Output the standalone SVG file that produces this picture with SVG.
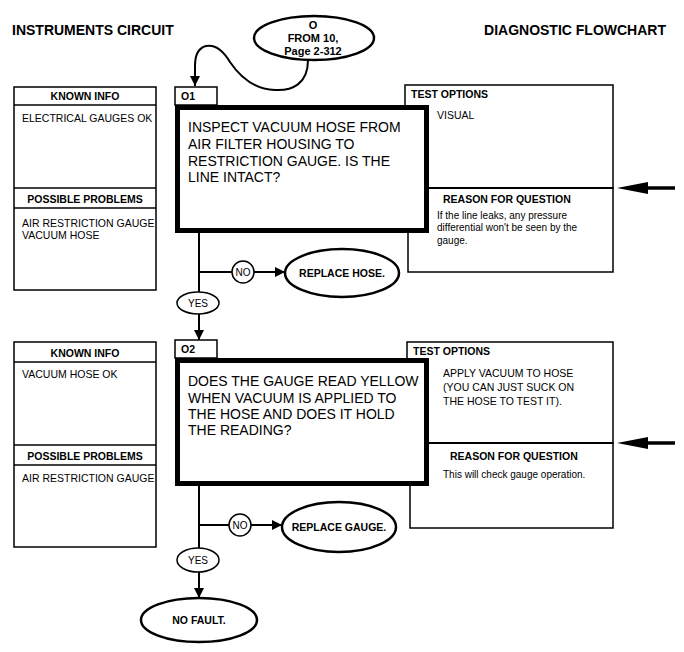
<svg xmlns="http://www.w3.org/2000/svg" width="684" height="652" viewBox="0 0 684 652">
<defs>
<style>
text{font-family:"Liberation Sans",Arial,Helvetica,sans-serif;fill:#000}
.title{font-size:14px;font-weight:bold}
.hdr{font-size:10.5px;font-weight:bold}
.body{font-size:10.5px}
.small{font-size:10px}
.q{font-size:14px}
.ov{font-size:10.5px;font-weight:bold}
.lbl{font-size:10px}
.box{fill:#fff;stroke:#000;stroke-width:1.5}
.thick{fill:#fff;stroke:#000;stroke-width:5}
.oval{fill:#fff;stroke:#000;stroke-width:2.5}
.small-oval{fill:#fff;stroke:#000;stroke-width:1.5}
.ln{fill:none;stroke:#000;stroke-width:2}
.sep{stroke:#000;stroke-width:1.5}
.mid{text-anchor:middle}
</style>
<marker id="ah" viewBox="0 0 10 10" refX="10" refY="5" markerWidth="15" markerHeight="10" markerUnits="userSpaceOnUse" orient="auto">
<path d="M0,0 L10,5 L0,10 z" fill="#000"/>
</marker>
</defs>
<rect width="684" height="652" fill="#fff"/>

<text class="title" x="12" y="35">INSTRUMENTS CIRCUIT</text>
<text class="title" x="666" y="35" text-anchor="end">DIAGNOSTIC FLOWCHART</text>

<g id="start">
<ellipse class="oval" cx="314" cy="38" rx="60" ry="22"/>
<text class="mid" x="313" y="29" font-size="11" font-weight="bold">O</text>
<text class="mid" x="313" y="42" font-size="11" font-weight="bold">FROM 10,</text>
<text class="mid" x="313" y="55" font-size="11" font-weight="bold">Page 2-312</text>
</g>

<!-- Section 1 -->
<g id="known1">
<rect class="box" x="14" y="87" width="142" height="203"/>
<line class="sep" x1="14" y1="105" x2="156" y2="105"/>
<line class="sep" x1="14" y1="188" x2="156" y2="188"/>
<line class="sep" x1="14" y1="208" x2="156" y2="208"/>
<text class="hdr mid" x="85" y="100">KNOWN INFO</text>
<text class="body" x="22" y="122">ELECTRICAL GAUGES OK</text>
<text class="hdr mid" x="85" y="203">POSSIBLE PROBLEMS</text>
<text class="body" x="22" y="227">AIR RESTRICTION GAUGE</text>
<text class="body" x="22" y="239">VACUUM HOSE</text>
</g>

<g id="test1">
<rect class="box" x="405" y="85" width="208" height="103" stroke-width="2"/>
<text class="hdr" x="411" y="98">TEST OPTIONS</text>
<text class="body" x="437" y="119">VISUAL</text>
</g>
<g id="reason1">
<rect class="box" x="408" y="188" width="205" height="84"/>
<line class="ln" x1="405" y1="188" x2="613" y2="188"/>
<text class="hdr" x="443" y="203">REASON FOR QUESTION</text>
<text class="small" x="437" y="219">If the line leaks, any pressure</text>
<text class="small" x="437" y="231">differential won't be seen by the</text>
<text class="small" x="437" y="244">gauge.</text>
</g>

<g id="q1">
<rect class="box" x="175" y="87" width="42" height="18"/>
<text class="hdr" x="181" y="100">O1</text>
<rect class="thick" x="177.5" y="107.5" width="249" height="123"/>
<text class="q" x="188" y="132">INSPECT VACUUM HOSE FROM</text>
<text class="q" x="188" y="149">AIR FILTER HOUSING TO</text>
<text class="q" x="188" y="166">RESTRICTION GAUGE. IS THE</text>
<text class="q" x="188" y="182">LINE INTACT?</text>
</g>

<g id="replacehose">
<ellipse class="oval" cx="342" cy="273" rx="57" ry="24"/>
<text class="ov mid" x="342" y="277">REPLACE HOSE.</text>
</g>

<!-- Section 2 -->
<g id="known2">
<rect class="box" x="14" y="342" width="142" height="205"/>
<line class="sep" x1="14" y1="362" x2="156" y2="362"/>
<line class="sep" x1="14" y1="445" x2="156" y2="445"/>
<line class="sep" x1="14" y1="465" x2="156" y2="465"/>
<text class="hdr mid" x="85" y="357">KNOWN INFO</text>
<text class="body" x="22" y="378">VACUUM HOSE OK</text>
<text class="hdr mid" x="85" y="460">POSSIBLE PROBLEMS</text>
<text class="body" x="22" y="482">AIR RESTRICTION GAUGE</text>
</g>

<g id="test2">
<rect class="box" x="407" y="342" width="206" height="101" stroke-width="2"/>
<text class="hdr" x="413" y="355">TEST OPTIONS</text>
<text class="body" x="443" y="377">APPLY VACUUM TO HOSE</text>
<text class="body" x="443" y="391">(YOU CAN JUST SUCK ON</text>
<text class="body" x="443" y="405">THE HOSE TO TEST IT).</text>
</g>
<g id="reason2">
<rect class="box" x="410" y="443" width="203" height="85"/>
<line class="ln" x1="407" y1="443" x2="613" y2="443"/>
<text class="hdr" x="450" y="460">REASON FOR QUESTION</text>
<text class="small" x="443" y="478">This will check gauge operation.</text>
</g>

<g id="q2">
<rect class="box" x="175" y="340" width="42" height="18"/>
<text class="hdr" x="181" y="353">O2</text>
<rect class="thick" x="177.5" y="360.5" width="249" height="123"/>
<text class="q" x="188" y="386">DOES THE GAUGE READ YELLOW</text>
<text class="q" x="188" y="403">WHEN VACUUM IS APPLIED TO</text>
<text class="q" x="188" y="419">THE HOSE AND DOES IT HOLD</text>
<text class="q" x="188" y="435">THE READING?</text>
</g>

<g id="replacegauge">
<ellipse class="oval" cx="339" cy="527" rx="57" ry="25"/>
<text class="ov mid" x="339" y="531">REPLACE GAUGE.</text>
</g>

<g id="nofault">
<ellipse class="oval" cx="199" cy="620" rx="58" ry="22"/>
<text class="ov mid" x="199" y="624">NO FAULT.</text>
</g>

<g id="connectors">
<path class="ln" d="M308,60 C308,84 292,91 275,90 C252,89 238,74 230,62 C224,52 216,44 206,46 C198,48 195,56 195,66 L195,86" marker-end="url(#ah)"/>
<!-- branch 1 -->
<line class="ln" x1="199" y1="232" x2="199" y2="292"/>
<line class="ln" x1="199" y1="272" x2="232" y2="272"/>
<line class="ln" x1="254" y1="272" x2="285" y2="272" marker-end="url(#ah)"/>
<line class="ln" x1="199" y1="314" x2="199" y2="340" marker-end="url(#ah)"/>
<!-- branch 2 -->
<line class="ln" x1="199" y1="486" x2="199" y2="548"/>
<line class="ln" x1="199" y1="525" x2="229" y2="525"/>
<line class="ln" x1="251" y1="525" x2="282" y2="525" marker-end="url(#ah)"/>
<line class="ln" x1="199" y1="572" x2="199" y2="598" marker-end="url(#ah)"/>
<!-- side arrows -->
<line x1="675" y1="188" x2="645" y2="188" stroke="#000" stroke-width="3.5"/>
<polygon points="617,188 648,182 648,194" fill="#000"/>
<line x1="675" y1="443" x2="645" y2="443" stroke="#000" stroke-width="3.5"/>
<polygon points="617,443 648,437 648,449" fill="#000"/>
</g>

<g id="no1">
<circle class="small-oval" cx="243" cy="272" r="11"/>
<text class="lbl mid" x="243" y="276">NO</text>
</g>
<g id="yes1">
<ellipse class="small-oval" cx="198" cy="303" rx="21" ry="11"/>
<text class="lbl mid" x="198" y="307">YES</text>
</g>
<g id="no2">
<circle class="small-oval" cx="240" cy="525" r="11"/>
<text class="lbl mid" x="240" y="529">NO</text>
</g>
<g id="yes2">
<ellipse class="small-oval" cx="198" cy="560" rx="21" ry="12"/>
<text class="lbl mid" x="198" y="564">YES</text>
</g>
</svg>
